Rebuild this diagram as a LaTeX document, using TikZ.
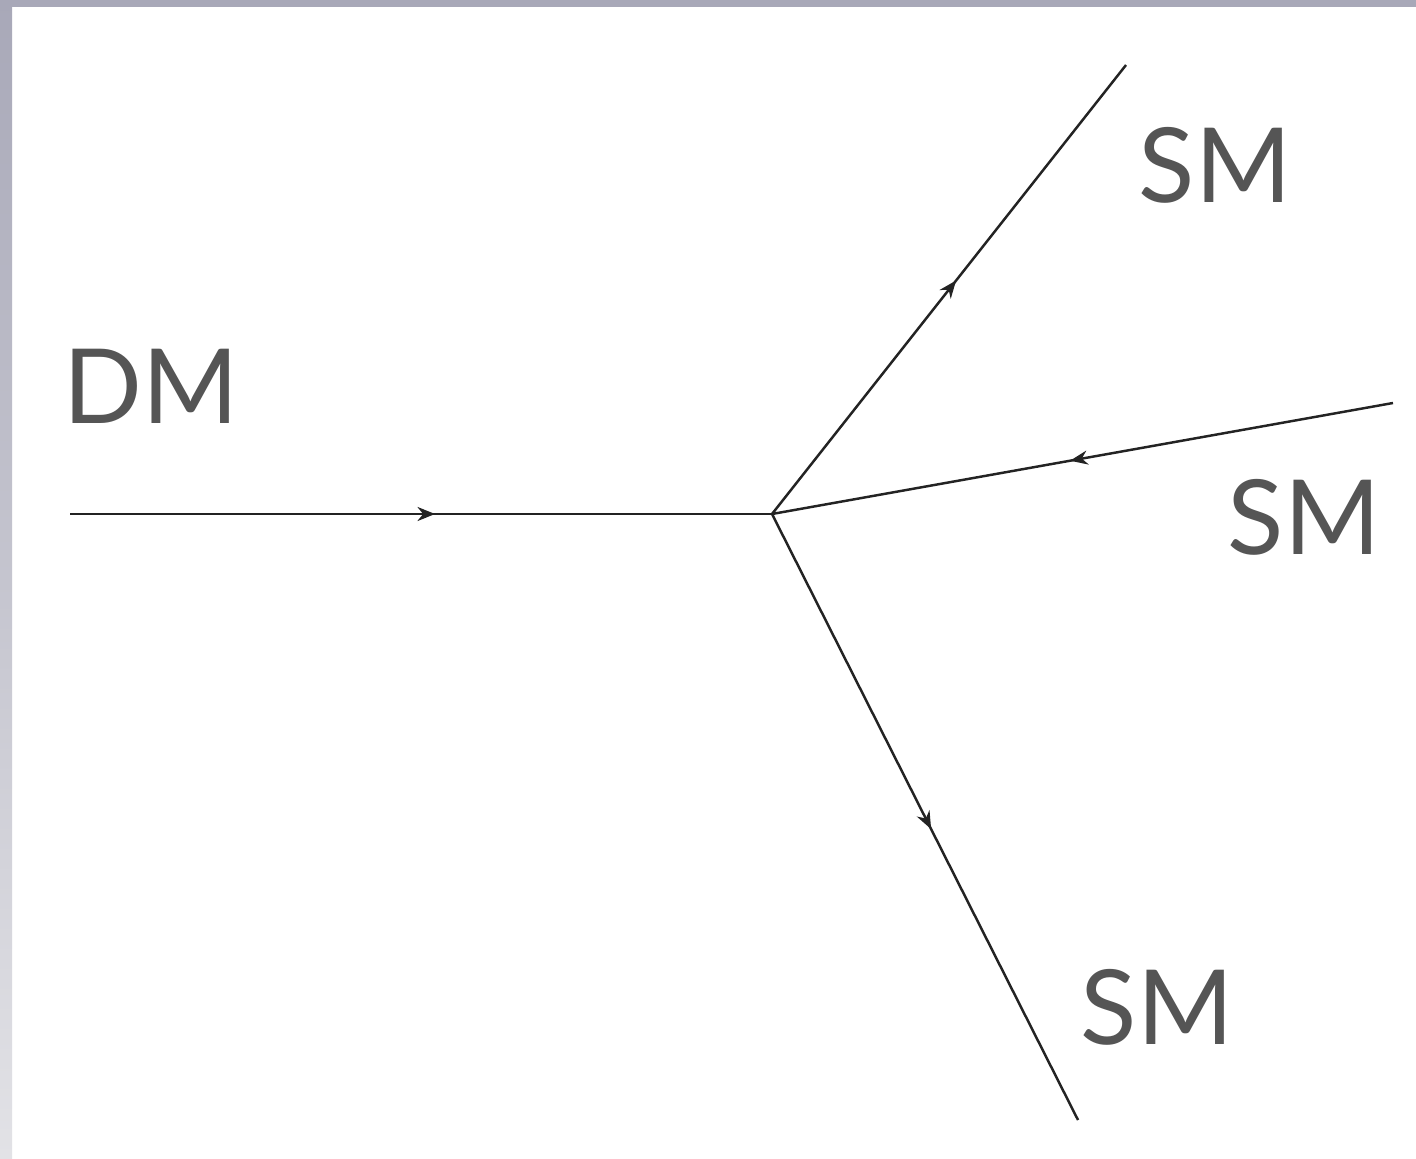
\documentclass[tikz,border=0pt]{standalone}
\usepackage{fontspec}
\setmainfont{Lato}
\definecolor{framegray}{RGB}{168,168,184}
\definecolor{framelight}{RGB}{226,226,230}
\definecolor{labelgray}{RGB}{85,85,85}
\definecolor{linegray}{RGB}{35,35,35}
\usetikzlibrary{arrows.meta, decorations.markings}

\begin{document}
\begin{tikzpicture}[x=0.01cm, y=-0.01cm,
    leg/.style={linegray, line width=0.7pt},
    midarrow/.style={postaction={decorate, decoration={markings,
        mark=at position 0.52 with {\arrow{Stealth[length=5pt, width=4pt]}}}}},
    particle/.style={labelgray, font=\fontsize{29.5}{34}\selectfont, inner sep=0pt}]
                % Frame
                \useasboundingbox (0,0) rectangle (1416,1158);
                \fill[white] (0,0) rectangle (1416,1158);
                \shade[top color=framegray, bottom color=framelight] (0,0) rectangle (12,1158);
                \fill[framegray] (0,0) rectangle (1416,7);

                % Vertex and outer ends
                \coordinate (v) at (772,514);
                \coordinate (dmin) at (70,514);
                \coordinate (smup) at (1126,65);
                \coordinate (smmid) at (1393,403);
                \coordinate (smlow) at (1078,1120);

                % Legs
                \draw[leg, midarrow] (dmin) -- (v);
                \draw[leg, midarrow] (v) -- (smup);
                \draw[leg, midarrow] (smmid) -- (v);
                \draw[leg, midarrow] (v) -- (smlow);

                % Labels
                \node[particle] (dm) at (151,386) {DM};
                \node[particle] (smtop) at (1215,165) {SM};
                \node[particle] (smright) at (1304,517) {SM};
                \node[particle] (smbottom) at (1157,1007) {SM};
\end{tikzpicture}
\end{document}
